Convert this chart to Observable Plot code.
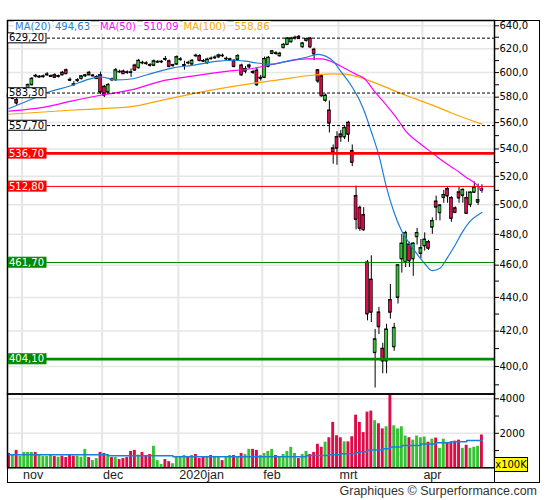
<!DOCTYPE html>
<html><head><meta charset="utf-8">
<script src="https://cdn.jsdelivr.net/npm/d3@7"></script>
<script src="https://cdn.jsdelivr.net/npm/@observablehq/plot@0.6"></script>
<style>
html,body{margin:0;padding:0;background:#fff;overflow:hidden}
#wrap{position:relative;width:545px;height:500px;font-family:"DejaVu Sans",sans-serif}
#wrap svg{position:absolute;left:0;top:0}
.leg{position:absolute;top:21px;font-size:10px;line-height:12px;background:#fff;padding:0 1px;white-space:nowrap}
</style></head><body><div id="wrap"></div>
<script>
// ---------- data ----------
const monthNames = ["nov","dec","2020jan","feb","mrt","apr"];
const monthStart = [4,25,45,67,87,109];

const open = [582,579,577.8,581,583.5,586,590,597.5,596.2,596.5,
598,596.8,598,596.7,600,602,594.2,590.5,593.3,595,
597.2,600,597.2,595,598,588.5,584,594.5,594,600.8,
601,600.3,600.3,606,604,608.3,607.8,606.3,606,608.7,
608.8,611.3,609.5,605.8,607,610.8,605.8,608.3,607,614.3,
614,609.8,608,611.8,612.3,613,614.3,611.3,610.8,610,
611,606,601,604.6,600.5,601.8,595.2,596,605,616,
616.3,614,621,623.6,626,629.3,630.4,621.7,627,629,
619.4,602,597,577.4,569.5,540.5,549,551,549,560,
538.5,506,498,493,461.8,451,407.7,431,410,403,
438.5,411,440,464,462,473.4,464,478.4,467.5,472.4,
475,484.7,502.3,494.5,505,511,504.8,497.6,508.7,506.5,
504.8,500,508.6,501.7,511];
const high = [584,583,579,585,586,590.5,596,598.5,597.5,598,
600,598,599,598,601,603,595.7,592.6,595,597.5,
598.5,601,598.5,597.5,600.4,589.5,591,595.5,603.5,602,
602,601.5,603,607,611,609.5,609,607.5,610.5,610,
610,613.5,610.5,607,614,612.5,609.5,609.5,611,615.5,
615,611,612,613,614,615.5,615.5,613,612,611,
615,607,605,607,602,603.5,597.7,613,613.5,618.5,
617.5,617,624.5,629.5,630,631,631.5,625.5,629.2,629.5,
620.5,602.5,598,582.5,577,543,553,554,557,561,
543,513,499,498,463,466,421,434,413,424,
448,424.5,460,480,482,474.8,474.5,484,476.6,481,
476,491,506,500,510,512.5,505.5,498.5,512,511,
509,509,516,514.5,514];
const low = [579,578,573.5,580,582.5,585,589,595.5,595.5,595.5,
597,596,595.5,595.5,597.5,598.5,592.5,588.6,592,594,
596,597.5,596.5,594.5,582,579.7,583,592.5,593,599.5,
598.5,598.5,596,601,603,606.5,606,604.5,605,607.5,
607.5,609.5,604,604.5,606,609.5,602,606.5,606,612.5,
609,608.5,607,610.5,611,612,612.5,610,609.5,604,
610,597,599,603,598.5,588.6,593,595,604,615,
614.5,613,620,623,625,627.5,628,620.5,626,620.5,
610,591,580,576,552,528.8,528,545,547,545,
527,483,482,482,426,425,388.3,418,396,396,
427,408.5,436,455,458.5,458.6,453,473,464,469,
469.5,480,489,489,501,501,488,494,501,501,
493.5,498,508,499.5,508];
const close = [580,582,575.2,584,585,590,595,597,596.8,597,
598.6,597.3,596,597.2,598,599,593.6,590,593.9,597,
597.8,598,597.7,596.5,584,581.5,590,594,602,600.5,
599,600,600,602,610,608,607.5,606,609.5,609.1,
609.2,611,605,606.2,613,611.2,606.2,608,610,614,
610,609.5,611,611.5,612.7,614.5,614,611.7,611.2,605,
614,598,603,606,600,590,595.8,611.5,612.5,618,
616,616,623.6,629,629,629.7,628.8,624.7,628.5,621.5,
615.6,593,581,581.4,559.5,537.5,540.5,549,556,551,
530,490,484,483,430,431,415.3,422.5,403,421,
431,422,460,474,481,462.7,474,481,471,476.6,
470.8,489,498.3,499.6,506.9,506,490.6,494.6,504.6,510.5,
494,508.6,512,503.2,510];
const volume = [832,752,1010,673,891,891,891,891,733,653,
653,752,653,614,673,594,733,673,673,614,
1069,594,416,535,891,832,752,594,594,475,
535,594,950,1010,733,891,673,772,1247,416,
198,475,356,238,653,614,713,614,713,772,
535,614,614,713,614,614,416,614,713,713,
653,832,772,1069,1069,1010,713,832,950,1069,
713,614,772,950,1188,832,535,772,950,772,
891,1366,1188,1485,1742,2633,1861,1742,1505,1505,
1802,3050,2633,2040,3227,3287,2732,2554,2257,2376,
4300,2435,2257,2376,1841,1742,1604,1841,1742,1782,
1485,1663,1723,1129,1663,1465,1505,1544,1604,1129,
1307,1129,1188,1247,1901];

const ma20Idx = [0,7,10,16,20,24,28,32,36,43,48,55,59,62,65,69,73,78,81,83,85,87,90,92,93,95,97,99,101,103,105,107,109,111,113,115,117,119,121,123,124];
const ma20Val = [571,579.7,583.7,589,593.6,596.5,594,594.7,598,603.9,606,609.5,610.3,609.5,608,607,609.5,612.8,615.3,613.8,609.5,601,588,577,570,553,535,512,494.5,482,474,467,461,456.5,458,465,473,482,489,493,494.63];
const ma50Idx = [0,10,16,24,32,40,48,57,63,70,78,82,85,88,91,93,96,98,102,104,108,111,114,117,120,122,124];
const ma50Val = [569,572.5,576.6,581.5,585.8,593,597,601,603,607.5,611.5,611.5,608.5,603.6,598.5,595.5,584,577,562,553.6,543.5,537,530.5,525,519,515.5,510.09];
const ma100Idx = [0,17,32,40,49,63,71,80,85,88,92,96,100,104,108,112,116,120,124];
const ma100Val = [566.5,569.8,572.4,577.5,583.3,590.7,594.2,598,599,598.8,596,591.5,586.5,581.5,577,572.5,567.5,563,558.86];
const volMaIdx = [0,26,43,78,84,87,91,92,94,98,100,103,108,112,116,120,124];
const volMaVal = [752,693,645,713,752,812,871,931,1030,1109,1208,1287,1386,1445,1505,1584,1584];

const levels = [629.2,583.3,557.7,536.7,512.8,461.7,404.1];
const priceTicks = d3.range(390, 641, 10);
const volTicks = [1000,2000,3000,4000];

// ---------- styles ----------
const UP = "#34c234", DOWN = "#dc0c48";
const C20 = "#1c7ed6", C50 = "#ff00ff", C100 = "#ffa500", GRID = "#e6e6e6";
const levelStyle = [
  {kind:"dash", color:"#000", w:1, box:"#fff", text:"#000"},
  {kind:"dash", color:"#000", w:1, box:"#fff", text:"#000"},
  {kind:"dash", color:"#000", w:1, box:"#fff", text:"#000"},
  {kind:"solid", color:"#ff0000", w:2.6, box:"#ff0000", text:"#fff"},
  {kind:"solid", color:"#ff0000", w:1, box:"#ff0000", text:"#fff"},
  {kind:"solid", color:"#008a00", w:1, box:"#008a00", text:"#fff"},
  {kind:"solid", color:"#008a00", w:2.6, box:"#008a00", text:"#fff"}
];

const fmt = (v, n) => v.toFixed(n).replace(".", ",");
const candles = open.map((o, i) => ({i, o, h: high[i], l: low[i], c: close[i]}));
const volRows = volume.map((v, i) => ({i, v, col: close[i] >= open[i] ? UP : DOWN}));
const pts = (ix, vs) => ix.map((i, k) => ({i, v: vs[k]}));
const ma20 = pts(ma20Idx, ma20Val), ma50 = pts(ma50Idx, ma50Val), ma100 = pts(ma100Idx, ma100Val);
const volMa = pts(volMaIdx, volMaVal);
const levelRows = levels.map((v, k) => ({v, ...levelStyle[k]}));
const months = monthNames.map((name, k) => ({name, i: monthStart[k]}));
const majorTicks = priceTicks.filter(d => d % 20 === 0);

const xDomain = [-0.4, 127.3];
const base = {width: 545, height: 500, marginLeft: 7, marginRight: 51,
  style: {background: "transparent", fontFamily: "DejaVu Sans", fontSize: "10px", color: "#000"}};
const hw = 0.38;

const price = Plot.plot({
  ...base, marginTop: 20, marginBottom: 106.5,
  x: {domain: xDomain, axis: null},
  y: {type: "log", domain: [385.1, 644.7], range: [393.5, 20], axis: "right", ticks: priceTicks,
      tickFormat: d => d % 20 === 0 ? fmt(d, 1) : "", tickSize: 4, tickPadding: 1, label: null},
  color: {type: "identity"},
  marks: [
    Plot.ruleY(majorTicks, {stroke: GRID, strokeWidth: 1.5}),
    Plot.ruleX(monthStart, {x: d => d - 0.6, stroke: GRID, strokeWidth: 2}),
    Plot.ruleX(candles, {x: "i", y1: "l", y2: "h", stroke: "#000", strokeWidth: 1}),
    Plot.rect(candles, {x1: d => d.i - hw, x2: d => d.i + hw, y1: d => Math.min(d.o, d.c), y2: d => Math.max(d.o, d.c),
      fill: d => d.c >= d.o ? UP : DOWN, stroke: "#000", strokeWidth: 0.7}),
    Plot.ruleY(candles, {y: "o", x1: d => d.i - hw, x2: d => d.i + hw, stroke: "#000", strokeWidth: 1}),
    Plot.ruleY(candles, {y: "c", x1: d => d.i - hw, x2: d => d.i + hw, stroke: "#000", strokeWidth: 1}),
    Plot.line(ma100, {x: "i", y: "v", stroke: C100, strokeWidth: 1.2, curve: "monotone-x"}),
    Plot.line(ma50, {x: "i", y: "v", stroke: C50, strokeWidth: 1.2, curve: "monotone-x"}),
    Plot.line(ma20, {x: "i", y: "v", stroke: C20, strokeWidth: 1.2, curve: "monotone-x"}),
    Plot.ruleY(levelRows.filter(d => d.kind === "dash"), {y: "v", stroke: "color", strokeWidth: 1, strokeDasharray: "3,2"}),
    Plot.ruleY(levelRows.filter(d => d.kind === "solid"), {y: "v", stroke: "color", strokeWidth: "w"}),
    Plot.frame({stroke: "#000", strokeWidth: 1.5}),
    Plot.text(levelRows, {frameAnchor: "left", y: "v", text: d => fmt(d.v, 2), fill: "text", dx: 1.5, textAnchor: "start", lineAnchor: "middle", fontSize: 10})
  ]
});

const vol = Plot.plot({
  ...base, marginTop: 393.5, marginBottom: 32.7,
  x: {domain: xDomain, axis: null},
  y: {domain: [0, 4278], range: [467.3, 393.5], clamp: true, axis: "right", ticks: volTicks,
      tickFormat: d => d % 2000 === 0 ? String(d) : "", tickSize: 4, tickPadding: 1, label: null},
  color: {type: "identity"},
  marks: [
    Plot.ruleY([2000, 4000], {stroke: GRID, strokeWidth: 1.5}),
    Plot.ruleX(monthStart, {x: d => d - 0.6, stroke: GRID, strokeWidth: 2}),
    Plot.rect(volRows, {x1: d => d.i - hw, x2: d => d.i + hw, y1: 0, y2: "v", fill: "col"}),
    Plot.line(volMa, {x: "i", y: "v", curve: "step-after", stroke: C20, strokeWidth: 1.5}),
    Plot.frame({stroke: "#000", strokeWidth: 1.5}),
    Plot.text(months, {x: d => d.i - 0.6, frameAnchor: "bottom", dy: 7.5, dx: 1, text: "name", textAnchor: "start",
      lineAnchor: "middle", fontFamily: "Liberation Sans", fontSize: 12.5, fill: "#222"})
  ]
});

const wrap = document.getElementById("wrap");
wrap.append(vol, price);

// boxes behind the level labels (same local transform as each text)
const labelTexts = price.querySelectorAll('g[aria-label="text"] text');
labelTexts.forEach((t, k) => {
  const b = t.getBBox();
  const st = levelRows[k];
  const r = document.createElementNS("http://www.w3.org/2000/svg", "rect");
  r.setAttribute("x", b.x - 1.5);
  r.setAttribute("y", b.y + 0.5);
  r.setAttribute("width", b.width + 3.5);
  r.setAttribute("height", b.height - 1);
  r.setAttribute("fill", st.box);
  r.setAttribute("stroke", st.kind === "dash" ? "#000" : st.box);
  r.setAttribute("stroke-width", 1);
  const tr = t.getAttribute("transform");
  if (tr) r.setAttribute("transform", tr);
  t.parentNode.insertBefore(r, t);
});

function addDiv(css, text) {
  const d = document.createElement("div");
  d.style.cssText = "position:absolute;" + css;
  if (text != null) d.textContent = text;
  wrap.appendChild(d);
  return d;
}
// outer frame and right divider below the volume panel
addDiv("left:7px;top:19.5px;width:531px;height:461.5px;border:1.5px solid #000;pointer-events:none");
addDiv("left:493.5px;top:467px;width:1.5px;height:15px;background:#000");
// x100K box
addDiv("left:494px;top:457px;width:32px;height:13px;background:#ffff00;border:1px solid #000;font-size:10px;line-height:13px;text-align:center;font-family:'DejaVu Sans'", "x100K");
// legend
const legItems = [
  {t: "MA(20)", c: C20, x: 14}, {t: fmt(ma20Val[ma20Val.length - 1], 2), c: C20, x: 54},
  {t: "MA(50)", c: C50, x: 99}, {t: fmt(ma50Val[ma50Val.length - 1], 2), c: C50, x: 142.5},
  {t: "MA(100)", c: C100, x: 182.5}, {t: fmt(ma100Val[ma100Val.length - 1], 2), c: C100, x: 233.5}
];
legItems.forEach(d => { const e = addDiv(`left:${d.x}px;color:${d.c}`, d.t); e.className = "leg"; });
// caption
addDiv("right:8px;top:484px;font-family:'Liberation Sans';font-size:12.5px;line-height:14px;color:#333", "Graphiques © Surperformance.com");
</script></body></html>
